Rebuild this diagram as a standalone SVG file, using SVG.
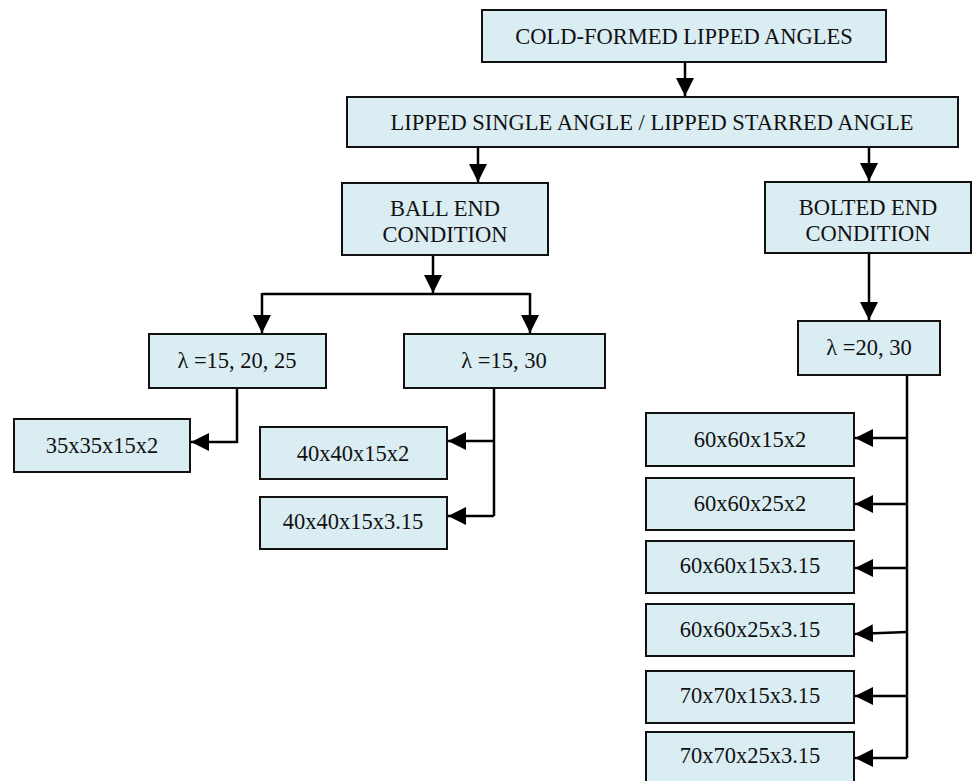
<svg xmlns="http://www.w3.org/2000/svg" width="976" height="781" viewBox="0 0 976 781">
<style>
.box{fill:#daedf3;stroke:#111;stroke-width:2}
.t{font-family:"Liberation Serif","Times New Roman","DejaVu Serif",serif;font-size:22.5px;fill:#111;text-anchor:middle}
.c{fill:none;stroke:#000;stroke-width:2.5}
</style>
<defs>
<marker id="ah" markerUnits="userSpaceOnUse" markerWidth="18" markerHeight="18" viewBox="0 0 16 16" refX="16" refY="8" orient="auto">
<path d="M0,0 L16,8 L0,16 Z" fill="#000"/>
</marker>
</defs>
<rect width="976" height="781" fill="#fff"/>
<g id="connectors">
<line class="c" x1="685" y1="62" x2="685" y2="96" marker-end="url(#ah)"/>
<line class="c" x1="478" y1="147" x2="478" y2="182" marker-end="url(#ah)"/>
<line class="c" x1="869" y1="147" x2="869" y2="181" marker-end="url(#ah)"/>
<line class="c" x1="433" y1="255" x2="433" y2="293" marker-end="url(#ah)"/>
<polyline class="c" points="262,294 530,294"/>
<line class="c" x1="262" y1="293" x2="262" y2="333" marker-end="url(#ah)"/>
<line class="c" x1="530" y1="293" x2="530" y2="333" marker-end="url(#ah)"/>
<line class="c" x1="869" y1="253" x2="869" y2="320" marker-end="url(#ah)"/>
<polyline class="c" points="237,388 237,442 191,442" marker-end="url(#ah)"/>
<line class="c" x1="494" y1="388" x2="494" y2="516"/>
<line class="c" x1="494" y1="441" x2="448" y2="441" marker-end="url(#ah)"/>
<line class="c" x1="494" y1="516" x2="448" y2="516" marker-end="url(#ah)"/>
<line class="c" x1="907" y1="375" x2="907" y2="758"/>
<line class="c" x1="907" y1="438" x2="855" y2="438" marker-end="url(#ah)"/>
<line class="c" x1="907" y1="504" x2="855" y2="504" marker-end="url(#ah)"/>
<line class="c" x1="907" y1="568" x2="855" y2="568" marker-end="url(#ah)"/>
<line class="c" x1="907" y1="632" x2="855" y2="634" marker-end="url(#ah)"/>
<line class="c" x1="907" y1="696" x2="855" y2="696" marker-end="url(#ah)"/>
<line class="c" x1="907" y1="758" x2="855" y2="758" marker-end="url(#ah)"/>
</g>
<g id="n_top"><rect class="box" x="482" y="10" width="404" height="52"/><text class="t" x="684" y="43.5">COLD-FORMED LIPPED ANGLES</text></g>
<g id="n_lipped"><rect class="box" x="347" y="97" width="611" height="50"/><text class="t" x="652" y="129.5">LIPPED SINGLE ANGLE / LIPPED STARRED ANGLE</text></g>
<g id="n_ball"><rect class="box" x="342" y="183" width="206" height="72"/><text class="t" x="445" y="216">BALL END</text><text class="t" x="445" y="242">CONDITION</text></g>
<g id="n_bolted"><rect class="box" x="765" y="182" width="206" height="71"/><text class="t" x="868" y="215">BOLTED END</text><text class="t" x="868" y="241">CONDITION</text></g>
<g id="n_lam1"><rect class="box" x="149" y="334" width="177" height="54"/><text class="t" x="237" y="368">λ =15, 20, 25</text></g>
<g id="n_lam2"><rect class="box" x="404" y="334" width="201" height="54"/><text class="t" x="504" y="368">λ =15, 30</text></g>
<g id="n_lam3"><rect class="box" x="798" y="321" width="142" height="54"/><text class="t" x="869" y="355">λ =20, 30</text></g>
<g id="n_35"><rect class="box" x="14" y="419" width="176" height="53"/><text class="t" x="102" y="453">35x35x15x2</text></g>
<g id="n_40a"><rect class="box" x="260" y="427" width="187" height="52"/><text class="t" x="353" y="461">40x40x15x2</text></g>
<g id="n_40b"><rect class="box" x="260" y="497" width="187" height="52"/><text class="t" x="353" y="529">40x40x15x3.15</text></g>
<g id="n_60a"><rect class="box" x="646" y="413" width="208" height="53"/><text class="t" x="750" y="447">60x60x15x2</text></g>
<g id="n_60b"><rect class="box" x="646" y="478" width="208" height="52"/><text class="t" x="750" y="511">60x60x25x2</text></g>
<g id="n_60c"><rect class="box" x="646" y="541" width="208" height="52"/><text class="t" x="750" y="573">60x60x15x3.15</text></g>
<g id="n_60d"><rect class="box" x="646" y="604" width="208" height="52"/><text class="t" x="750" y="637">60x60x25x3.15</text></g>
<g id="n_70a"><rect class="box" x="646" y="671" width="208" height="52"/><text class="t" x="750" y="703">70x70x15x3.15</text></g>
<g id="n_70b"><rect class="box" x="646" y="732" width="208" height="54"/><text class="t" x="750" y="763">70x70x25x3.15</text></g>
</svg>
